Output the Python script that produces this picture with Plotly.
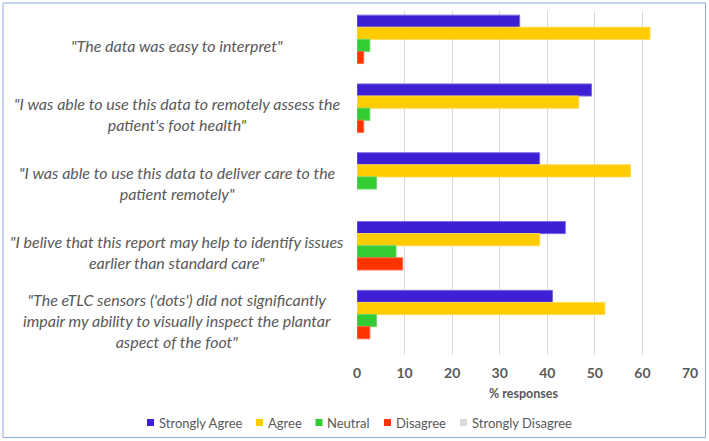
import plotly.graph_objects as go

questions = [
    "\"The data was easy to interpret\"",
    "\"I was able to use this data to remotely assess the<br>patient's foot health\"",
    "\"I was able to use this data to deliver care to the<br>patient remotely\"",
    "\"I belive that this report may help to identify issues<br>earlier than standard care\"",
    "\"The eTLC sensors ('dots') did not significantly<br>impair my ability to visually inspect the plantar<br>aspect of the foot\"",
]
series_names = ["Strongly Agree", "Agree", "Neutral", "Disagree", "Strongly Disagree"]
strongly_agree = [34.2, 49.3, 38.4, 43.8, 41.1]
agree = [61.6, 46.6, 57.5, 38.4, 52.1]
neutral = [2.7, 2.7, 4.1, 8.2, 4.1]
disagree = [1.4, 1.4, 0.0, 9.6, 2.7]
strongly_disagree = [0.0, 0.0, 0.0, 0.0, 0.0]
x_ticks = [0, 10, 20, 30, 40, 50, 60, 70]

series_values = [strongly_agree, agree, neutral, disagree, strongly_disagree]
colors = ["#3E1FD3", "#FFCC00", "#33CC33", "#FF3300", "#D9D9D9"]
line_colors = ["#7A6BE3", "#FFD84D", "#66D966", "#FF6640", "#D9D9D9"]

cats = list(range(len(questions)))

fig = go.Figure()
for name, vals, c, lc in zip(series_names, series_values, colors, line_colors):
    fig.add_trace(go.Bar(
        y=cats, x=vals, name=name, orientation="h",
        marker=dict(color=c, line=dict(color=lc, width=[1 if v > 0 else 0 for v in vals])),
        showlegend=False,
    ))

W, H = 709, 441
ml, mr, mt, mb = 357, 19, 11, 86
pw = W - ml - mr
ph = H - mt - mb

def px_x(px):
    return (px - ml) / pw

def px_y(py):
    return (H - mb - py) / ph

label_font = dict(family="Lato", size=16, color="#595959", style="italic")
for i, q in enumerate(questions):
    fig.add_annotation(
        x=0, xref="paper", y=i, yref="y", text=q, showarrow=False,
        xanchor="center", align="center", xshift=-180,
        font=label_font,
    )

# manual legend (key squares + labels) laid out in one row under the chart
legend_key_left = [147, 256, 315.5, 384, 460]
legend_y = 422.5
for name, c, kx in zip(series_names, colors, legend_key_left):
    fig.add_shape(
        type="rect", xref="paper", yref="paper",
        x0=px_x(kx), x1=px_x(kx + 7), y0=px_y(legend_y + 3.5), y1=px_y(legend_y - 3.5),
        line=dict(width=0), fillcolor=c,
    )
    fig.add_annotation(
        x=px_x(kx + 9.5), xref="paper", y=px_y(legend_y), yref="paper",
        text=name, showarrow=False, xanchor="left", yanchor="middle",
        font=dict(family="Lato", size=13, color="#595959"),
    )

# chart border
fig.add_shape(
    type="rect", xref="paper", yref="paper",
    x0=px_x(3), x1=px_x(705.5), y0=px_y(437.5), y1=px_y(3),
    line=dict(color="#8EA9DB", width=1), fillcolor="rgba(0,0,0,0)", layer="below",
)

fig.update_layout(
    width=W, height=H,
    margin=dict(l=ml, r=mr, t=mt, b=mb, autoexpand=False),
    paper_bgcolor="white", plot_bgcolor="white",
    barmode="group", bargap=0.12, bargroupgap=0,
    font=dict(family="Lato", color="#595959"),
    xaxis=dict(
        range=[0, 70], tickvals=x_ticks, showgrid=True, gridcolor="#D9D9D9", gridwidth=1,
        zeroline=False, showline=False, ticks="", ticklabelstandoff=8,
        tickfont=dict(family="Lato", size=14, color="#595959", weight="bold"),
        title=dict(text="% responses", font=dict(family="Lato", size=12.5, color="#595959", weight="bold"), standoff=9),
    ),
    yaxis=dict(autorange="reversed", showticklabels=False, showgrid=False, zeroline=False),
    showlegend=False,
)

fig.write_html("out.html")
